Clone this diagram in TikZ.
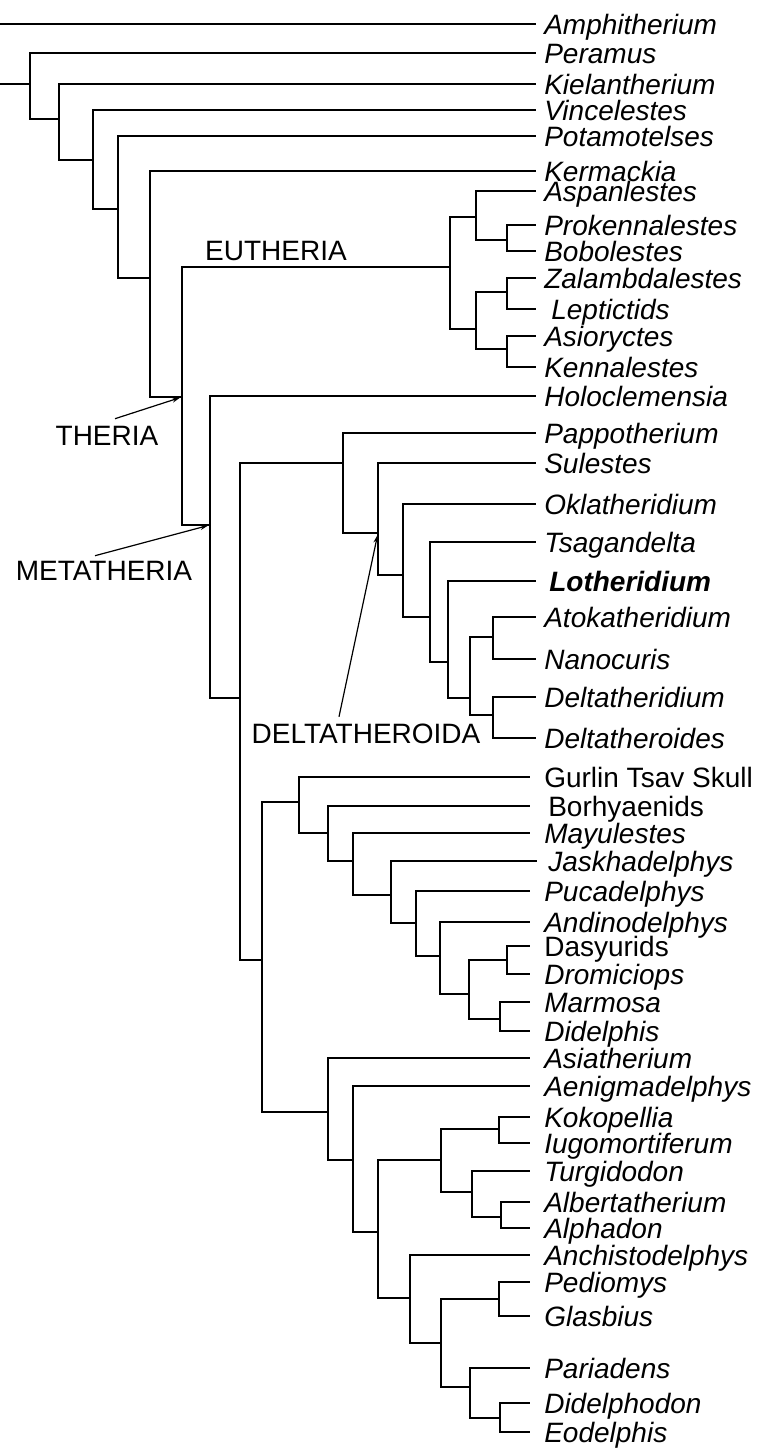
\documentclass[tikz,border=0pt]{standalone}
\usepackage{fontspec}
\setmainfont{Liberation Sans}
\usetikzlibrary{arrows.meta}
\newcommand{\taxonsize}{\fontsize{28}{30}\selectfont}

\begin{document}
\begin{tikzpicture}[
    x=1pt, y=-1pt,
    taxon/.style={anchor=west, inner xsep=7pt, inner ysep=0pt, text height=20pt, text depth=0pt, font=\taxonsize\itshape},
    taxonb/.style={taxon, inner xsep=13pt},
    upright/.style={font=\taxonsize},
    clade/.style={inner sep=0pt, text height=20pt, text depth=0pt, font=\taxonsize},
    pointer/.style={line width=1.2pt, -{Stealth[length=8pt,width=5pt]}, shorten >=2pt},
    line width=2.6pt
  ]
  \useasboundingbox (0,0) rectangle (760,1449);

  % Outgroups
  \node[taxon] (amph)  at (536,24)  {Amphitherium};
  \node[taxon] (peram) at (536,53)  {Peramus};
  \node[taxon] (kiel)  at (536,84)  {Kielantherium};
  \node[taxon] (vinc)  at (536,110) {Vincelestes};
  \node[taxon] (potam) at (536,136) {Potamotelses};
  \node[taxon] (kerm)  at (536,171) {Kermackia};

  \coordinate (amphroot) at (0,24);
  \coordinate (root) at (0,84);
  \coordinate (n1) at (30,84);
  \coordinate (n2) at (59,119);
  \coordinate (n3) at (93,160);
  \coordinate (n4) at (118,209);
  \coordinate (n5) at (150,278);
  \coordinate (theria) at (182,397);

  \draw (amphroot) -- (amph);
  \draw (root) -- (n1);
  \draw (n1) |- (peram) (n1) |- (n2);
  \draw (n2) |- (kiel) (n2) |- (n3);
  \draw (n3) |- (vinc) (n3) |- (n4);
  \draw (n4) |- (potam) (n4) |- (n5);
  \draw (n5) |- (kerm) (n5) |- (theria);

  % Eutheria
  \node[taxon] (aspan) at (536,191) {Aspanlestes};
  \node[taxon] (prok)  at (536,225) {Prokennalestes};
  \node[taxon] (bobo)  at (536,251) {Bobolestes};
  \node[taxon] (zalam) at (536,278) {Zalambdalestes};
  \node[taxon, inner xsep=14pt] (lept) at (536,309) {Leptictids};
  \node[taxon] (asio)  at (536,336) {Asioryctes};
  \node[taxon] (kenn)  at (536,367) {Kennalestes};

  \coordinate (euth) at (450,267);
  \coordinate (e1) at (476,217);
  \coordinate (e11) at (507,240);
  \coordinate (e2) at (476,329);
  \coordinate (e21) at (507,292);
  \coordinate (e22) at (507,349);

  \draw (theria) |- (euth);
  \draw (euth) |- (e1) (euth) |- (e2);
  \draw (e1) |- (aspan) (e1) |- (e11);
  \draw (e11) |- (prok) (e11) |- (bobo);
  \draw (e2) |- (e21) (e2) |- (e22);
  \draw (e21) |- (zalam) (e21) |- (lept);
  \draw (e22) |- (asio) (e22) |- (kenn);

  % Metatheria and Deltatheroida
  \node[taxon] (holo)    at (536,396) {Holoclemensia};
  \node[taxon] (pappo)   at (536,433) {Pappotherium};
  \node[taxon] (sule)    at (536,463) {Sulestes};
  \node[taxon] (okla)    at (536,504) {Oklatheridium};
  \node[taxon] (tsag)    at (536,542) {Tsagandelta};
  \node[taxon, inner xsep=12pt] (lothe) at (536,581) {\bfseries Lotheridium};
  \node[taxon] (atok)    at (536,617) {Atokatheridium};
  \node[taxon] (nano)    at (536,659) {Nanocuris};
  \node[taxon] (deltid)  at (536,697) {Deltatheridium};
  \node[taxon] (deltoid) at (536,738) {Deltatheroides};

  \coordinate (meta) at (210,525);
  \coordinate (m1) at (240,698);
  \coordinate (delta) at (343,463);
  \coordinate (d1) at (378,533);
  \coordinate (d2) at (403,575);
  \coordinate (d3) at (430,617);
  \coordinate (d4) at (448,662);
  \coordinate (d5) at (470,698);
  \coordinate (d51) at (493,637);
  \coordinate (d52) at (493,715);

  \draw (theria) |- (meta);
  \draw (meta) |- (holo) (meta) |- (m1);
  \draw (m1) |- (delta);
  \draw (delta) |- (pappo) (delta) |- (d1);
  \draw (d1) |- (sule) (d1) |- (d2);
  \draw (d2) |- (okla) (d2) |- (d3);
  \draw (d3) |- (tsag) (d3) |- (d4);
  \draw (d4) |- (lothe) (d4) |- (d5);
  \draw (d5) |- (d51) (d5) |- (d52);
  \draw (d51) |- (atok) (d51) |- (nano);
  \draw (d52) |- (deltid) (d52) |- (deltoid);

  % Marsupial stem
  \node[taxonb, upright] (gurlin) at (530,777) {Gurlin Tsav Skull};
  \node[taxonb, upright, inner xsep=17pt] (borhy) at (530,806) {Borhyaenids};
  \node[taxonb] (mayu)   at (530,833)  {Mayulestes};
  \node[taxon, inner xsep=10pt] (jask) at (537,861) {Jaskhadelphys};
  \node[taxonb] (puca)   at (530,891)  {Pucadelphys};
  \node[taxonb] (andino) at (530,922)  {Andinodelphys};
  \node[taxonb, upright] (dasy) at (530,946) {Dasyurids};
  \node[taxonb] (drom)   at (530,974)  {Dromiciops};
  \node[taxonb] (marm)   at (530,1002) {Marmosa};
  \node[taxonb] (didel)  at (530,1031) {Didelphis};

  \coordinate (m2) at (262,960);
  \coordinate (a) at (299,802);
  \coordinate (a1) at (328,833);
  \coordinate (a2) at (353,861);
  \coordinate (a3) at (391,895);
  \coordinate (a4) at (416,923);
  \coordinate (a5) at (440,956);
  \coordinate (a6) at (469,994);
  \coordinate (a61) at (507,960);
  \coordinate (a62) at (500,1019);

  \draw (m1) |- (m2);
  \draw (m2) |- (a);
  \draw (a) |- (gurlin) (a) |- (a1);
  \draw (a1) |- (borhy) (a1) |- (a2);
  \draw (a2) |- (mayu) (a2) |- (a3);
  \draw (a3) |- (jask) (a3) |- (a4);
  \draw (a4) |- (puca) (a4) |- (a5);
  \draw (a5) |- (andino) (a5) |- (a6);
  \draw (a6) |- (a61) (a6) |- (a62);
  \draw (a61) |- (dasy) (a61) |- (drom);
  \draw (a62) |- (marm) (a62) |- (didel);

  % Stagodontids, alphadontids and kin
  \node[taxonb] (asiat)    at (530,1058) {Asiatherium};
  \node[taxonb] (aenig)    at (530,1086) {Aenigmadelphys};
  \node[taxonb] (koko)     at (530,1117) {Kokopellia};
  \node[taxonb] (iugo)     at (530,1143) {Iugomortiferum};
  \node[taxonb] (turgi)    at (530,1171) {Turgidodon};
  \node[taxonb] (alber)    at (530,1202) {Albertatherium};
  \node[taxonb] (alpha)    at (530,1228) {Alphadon};
  \node[taxonb] (anchi)    at (530,1255) {Anchistodelphys};
  \node[taxonb] (pedio)    at (530,1282) {Pediomys};
  \node[taxonb] (glasb)    at (530,1316) {Glasbius};
  \node[taxonb] (paria)    at (530,1368) {Pariadens};
  \node[taxonb] (didelpho) at (530,1403) {Didelphodon};
  \node[taxonb] (eodel)    at (530,1432) {Eodelphis};

  \coordinate (b) at (328,1112);
  \coordinate (b1) at (353,1160);
  \coordinate (b2) at (378,1232);
  \coordinate (b3) at (441,1160);
  \coordinate (b31) at (499,1129);
  \coordinate (b32) at (472,1192);
  \coordinate (b321) at (501,1217);
  \coordinate (b4) at (410,1298);
  \coordinate (b5) at (441,1343);
  \coordinate (b51) at (499,1299);
  \coordinate (b52) at (470,1387);
  \coordinate (b521) at (500,1418);

  \draw (m2) |- (b);
  \draw (b) |- (asiat) (b) |- (b1);
  \draw (b1) |- (aenig) (b1) |- (b2);
  \draw (b2) |- (b3) (b2) |- (b4);
  \draw (b3) |- (b31) (b3) |- (b32);
  \draw (b31) |- (koko) (b31) |- (iugo);
  \draw (b32) |- (turgi) (b32) |- (b321);
  \draw (b321) |- (alber) (b321) |- (alpha);
  \draw (b4) |- (anchi) (b4) |- (b5);
  \draw (b5) |- (b51) (b5) |- (b52);
  \draw (b51) |- (pedio) (b51) |- (glasb);
  \draw (b52) |- (paria) (b52) |- (b521);
  \draw (b521) |- (didelpho) (b521) |- (eodel);

  % Clade labels
  \node[clade] (eulbl) at (276,250) {EUTHERIA};
  \node[clade] (therlbl) at (107,435) {THERIA};
  \node[clade] (metalbl) at (104,570) {METATHERIA};
  \node[clade] (deltlbl) at (366,733) {DELTATHEROIDA};

  \draw[pointer] ([shift={(8pt,5pt)}]therlbl.north) -- (theria);
  \draw[pointer] ([shift={(-9pt,3pt)}]metalbl.north) -- (meta);
  \draw[pointer] ([shift={(-27pt,5pt)}]deltlbl.north) -- (d1);
\end{tikzpicture}
\end{document}
